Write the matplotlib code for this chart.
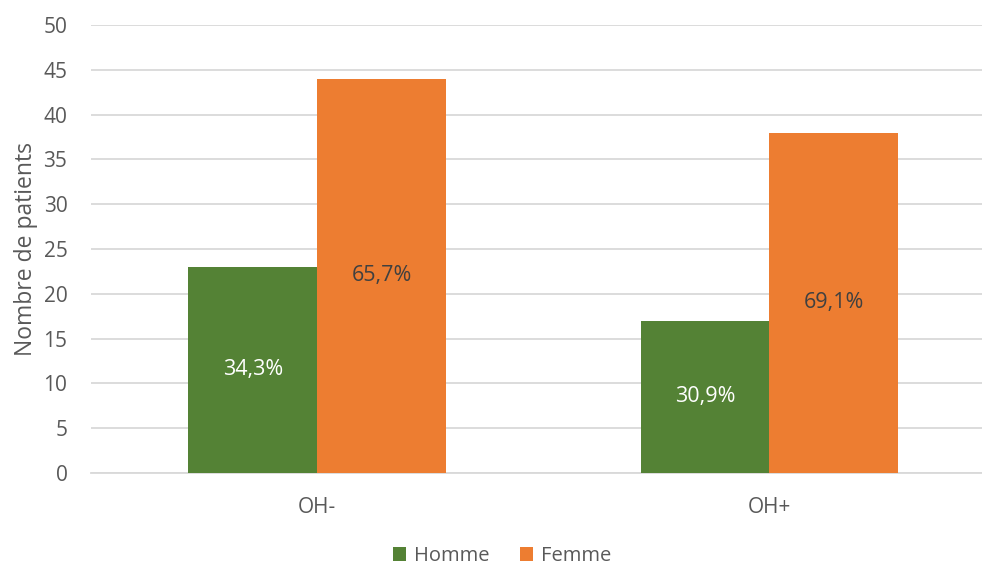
import numpy as np
import matplotlib.pyplot as plt

plt.rcParams['font.family'] = ['Open Sans', 'DejaVu Sans']

categories = ['OH-', 'OH+']
homme = [23, 17]
femme = [44, 38]
homme_pct = ['34,3%', '30,9%']
femme_pct = ['65,7%', '69,1%']

green = '#548235'
orange = '#ED7D31'
grey = '#595959'

fig = plt.figure(figsize=(9.82, 5.66), dpi=100)
ax = fig.add_axes([91 / 982, 1 - 473 / 566, 1 - 91 / 982, (473 - 25) / 566])

x = np.arange(len(categories))
w = 0.285
b1 = ax.bar(x - w / 2, homme, w, color=green, label='Homme', zorder=3)
b2 = ax.bar(x + w / 2, femme, w, color=orange, label='Femme', zorder=3)

for rect, txt in zip(b1, homme_pct):
    ax.text(rect.get_x() + rect.get_width() / 2, rect.get_height() / 2, txt,
            ha='center', va='center', color='white', fontsize=15.5)
for rect, txt in zip(b2, femme_pct):
    ax.text(rect.get_x() + rect.get_width() / 2, rect.get_height() / 2, txt,
            ha='center', va='center', color='#404040', fontsize=15.5)

ax.set_xlim(-0.5, 1.47)
ax.set_ylim(0, 50)
ax.set_yticks(range(0, 51, 5))
ax.set_xticks(x)
ax.set_xticklabels(categories)
ax.yaxis.grid(True, color='#D9D9D9', linewidth=1.3, zorder=0)
ax.set_axisbelow(True)
for s in ['top', 'right', 'left']:
    ax.spines[s].set_visible(False)
ax.spines['bottom'].set_color('#D9D9D9')
ax.spines['bottom'].set_linewidth(1.3)
ax.tick_params(axis='both', length=0, labelsize=15, labelcolor=grey)
ax.tick_params(axis='x', pad=17)
ax.tick_params(axis='y', pad=17)
ax.set_ylabel('Nombre de patients', fontsize=16.5, color=grey, labelpad=4)

fig.legend(loc='center', bbox_to_anchor=(0.511, 1 - 556 / 566), ncol=2,
           frameon=False, fontsize=14.5, labelcolor=grey,
           handlelength=0.65, handleheight=0.65, handletextpad=0.4, columnspacing=1.5)

fig.savefig('out.png', dpi=100)
